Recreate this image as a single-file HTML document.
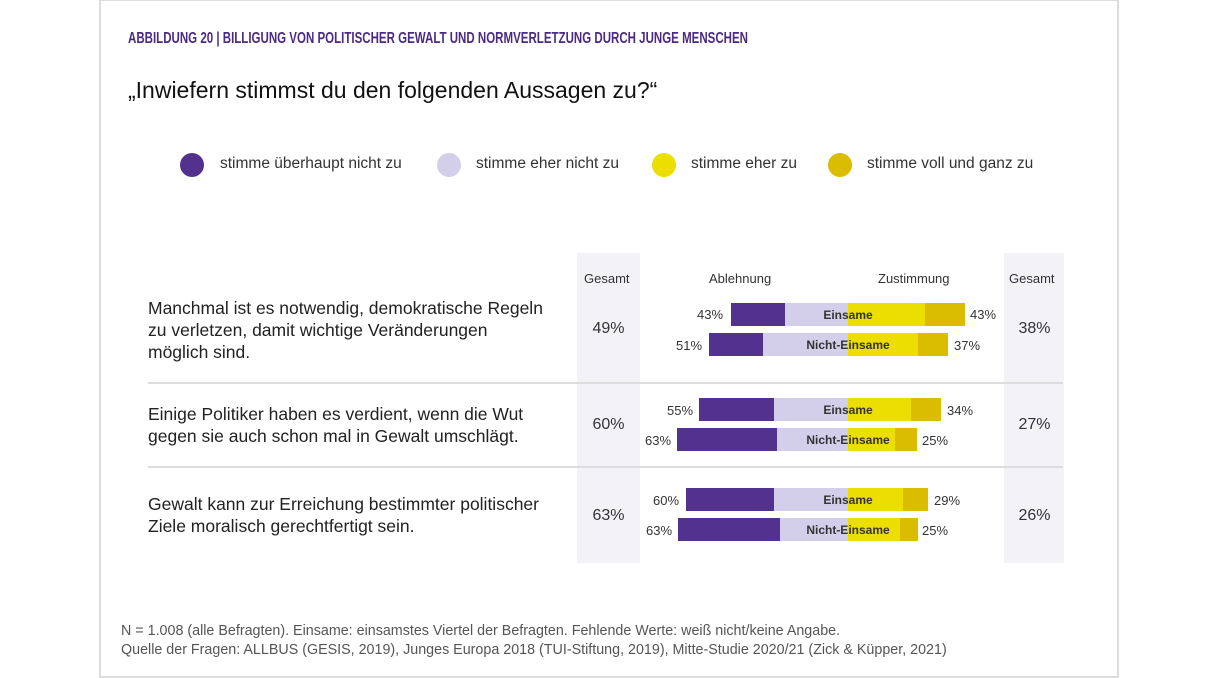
<!DOCTYPE html>
<html><head><meta charset="utf-8"><style>
body{margin:0;width:1216px;height:678px;background:#fff;position:relative;overflow:hidden;font-family:"Liberation Sans","DejaVu Sans",sans-serif;color:#333}
.a{position:absolute}
.frame{left:99px;top:0;width:1016px;height:675px;border:2px solid #ddd;border-top:1px solid #ddd}
.col{background:#f3f2f7}
.bar{position:absolute;height:23px}
.d{background:#52318f}.l{background:#d3cfea}.y{background:#ebde00}.g{background:#dbbd00}
.lab{font-size:12px;font-weight:bold;color:#333;text-align:center;width:120px;left:788px}
.pct{font-size:13px;color:#333}
.q{font-size:17.5px;color:#222;line-height:22px;left:148px}
.big{font-size:16px;color:#333;width:63px;text-align:center}
.dot{width:24px;height:24px;border-radius:50%}
.lg{font-size:15.5px;color:#333}
.sep{left:148px;width:915px;height:2px;background:#ddd}
</style></head><body>
<div class="a frame"></div>
<div class="a" style="left:128px;top:30px;font-size:16px;font-weight:bold;color:#4b2a85;font-family:'Liberation Sans Narrow','Liberation Sans',sans-serif;transform:scaleX(0.72);transform-origin:left;white-space:nowrap">ABBILDUNG 20 | BILLIGUNG VON POLITISCHER GEWALT UND NORMVERLETZUNG DURCH JUNGE MENSCHEN</div>
<div class="a" style="left:128px;top:77px;font-size:23px;color:#111;white-space:nowrap">„Inwiefern stimmst du den folgenden Aussagen zu?“</div>
<div class="a dot d" style="left:180px;top:153px"></div><div class="a lg" style="left:220px;top:155px">stimme überhaupt nicht zu</div>
<div class="a dot l" style="left:437px;top:153px"></div><div class="a lg" style="left:476px;top:155px">stimme eher nicht zu</div>
<div class="a dot y" style="left:652px;top:153px"></div><div class="a lg" style="left:691px;top:155px">stimme eher zu</div>
<div class="a dot g" style="left:828px;top:153px"></div><div class="a lg" style="left:867px;top:155px">stimme voll und ganz zu</div>

<div class="a col" style="left:577px;top:253px;width:63px;height:310px"></div>
<div class="a col" style="left:1004px;top:253px;width:60px;height:310px"></div>
<div class="a sep" style="top:382px"></div>
<div class="a sep" style="top:466px"></div>
<div class="a pct" style="left:584px;top:271px">Gesamt</div>
<div class="a pct" style="left:1009px;top:271px">Gesamt</div>
<div class="a pct" style="left:709px;top:271px">Ablehnung</div>
<div class="a pct" style="left:878px;top:271px">Zustimmung</div>

<div class="a q" style="top:297px">Manchmal ist es notwendig, demokratische Regeln<br>zu verletzen, damit wichtige Veränderungen<br>möglich sind.</div>
<div class="a q" style="top:403px">Einige Politiker haben es verdient, wenn die Wut<br>gegen sie auch schon mal in Gewalt umschlägt.</div>
<div class="a q" style="top:493px">Gewalt kann zur Erreichung bestimmter politischer<br>Ziele moralisch gerechtfertigt sein.</div>

<div class="a big" style="left:577px;top:320px">49%</div><div class="a big" style="left:1003px;top:320px">38%</div>
<div class="a big" style="left:577px;top:416px">60%</div><div class="a big" style="left:1003px;top:416px">27%</div>
<div class="a big" style="left:577px;top:507px">63%</div><div class="a big" style="left:1003px;top:507px">26%</div>

<div class="bar d" style="left:731px;top:303px;width:54px"></div><div class="bar l" style="left:785px;top:303px;width:63px"></div><div class="bar y" style="left:848px;top:303px;width:77px"></div><div class="bar g" style="left:925px;top:303px;width:40px"></div>
<div class="a lab" style="top:308px">Einsame</div><div class="a pct" style="left:697px;top:307px">43%</div><div class="a pct" style="left:970px;top:307px">43%</div>
<div class="bar d" style="left:709px;top:333px;width:54px"></div><div class="bar l" style="left:763px;top:333px;width:85px"></div><div class="bar y" style="left:848px;top:333px;width:70px"></div><div class="bar g" style="left:918px;top:333px;width:30px"></div>
<div class="a lab" style="top:338px">Nicht-Einsame</div><div class="a pct" style="left:676px;top:338px">51%</div><div class="a pct" style="left:954px;top:338px">37%</div>
<div class="bar d" style="left:699px;top:398px;width:75px"></div><div class="bar l" style="left:774px;top:398px;width:74px"></div><div class="bar y" style="left:848px;top:398px;width:63px"></div><div class="bar g" style="left:911px;top:398px;width:30px"></div>
<div class="a lab" style="top:403px">Einsame</div><div class="a pct" style="left:667px;top:403px">55%</div><div class="a pct" style="left:947px;top:403px">34%</div>
<div class="bar d" style="left:677px;top:428px;width:100px"></div><div class="bar l" style="left:777px;top:428px;width:71px"></div><div class="bar y" style="left:848px;top:428px;width:47px"></div><div class="bar g" style="left:895px;top:428px;width:22px"></div>
<div class="a lab" style="top:433px">Nicht-Einsame</div><div class="a pct" style="left:645px;top:433px">63%</div><div class="a pct" style="left:922px;top:433px">25%</div>
<div class="bar d" style="left:686px;top:488px;width:88px"></div><div class="bar l" style="left:774px;top:488px;width:74px"></div><div class="bar y" style="left:848px;top:488px;width:55px"></div><div class="bar g" style="left:903px;top:488px;width:25px"></div>
<div class="a lab" style="top:493px">Einsame</div><div class="a pct" style="left:653px;top:493px">60%</div><div class="a pct" style="left:934px;top:493px">29%</div>
<div class="bar d" style="left:678px;top:518px;width:102px"></div><div class="bar l" style="left:780px;top:518px;width:68px"></div><div class="bar y" style="left:848px;top:518px;width:52px"></div><div class="bar g" style="left:900px;top:518px;width:18px"></div>
<div class="a lab" style="top:523px">Nicht-Einsame</div><div class="a pct" style="left:646px;top:523px">63%</div><div class="a pct" style="left:922px;top:523px">25%</div>

<div class="a" style="left:121px;top:622px;font-size:14.3px;color:#555;line-height:19px;white-space:nowrap">N = 1.008 (alle Befragten). Einsame: einsamstes Viertel der Befragten. Fehlende Werte: weiß nicht/keine Angabe.<br>Quelle der Fragen: ALLBUS (GESIS, 2019), Junges Europa 2018 (TUI-Stiftung, 2019), Mitte-Studie 2020/21 (Zick &amp; Küpper, 2021)</div>
</body></html>
